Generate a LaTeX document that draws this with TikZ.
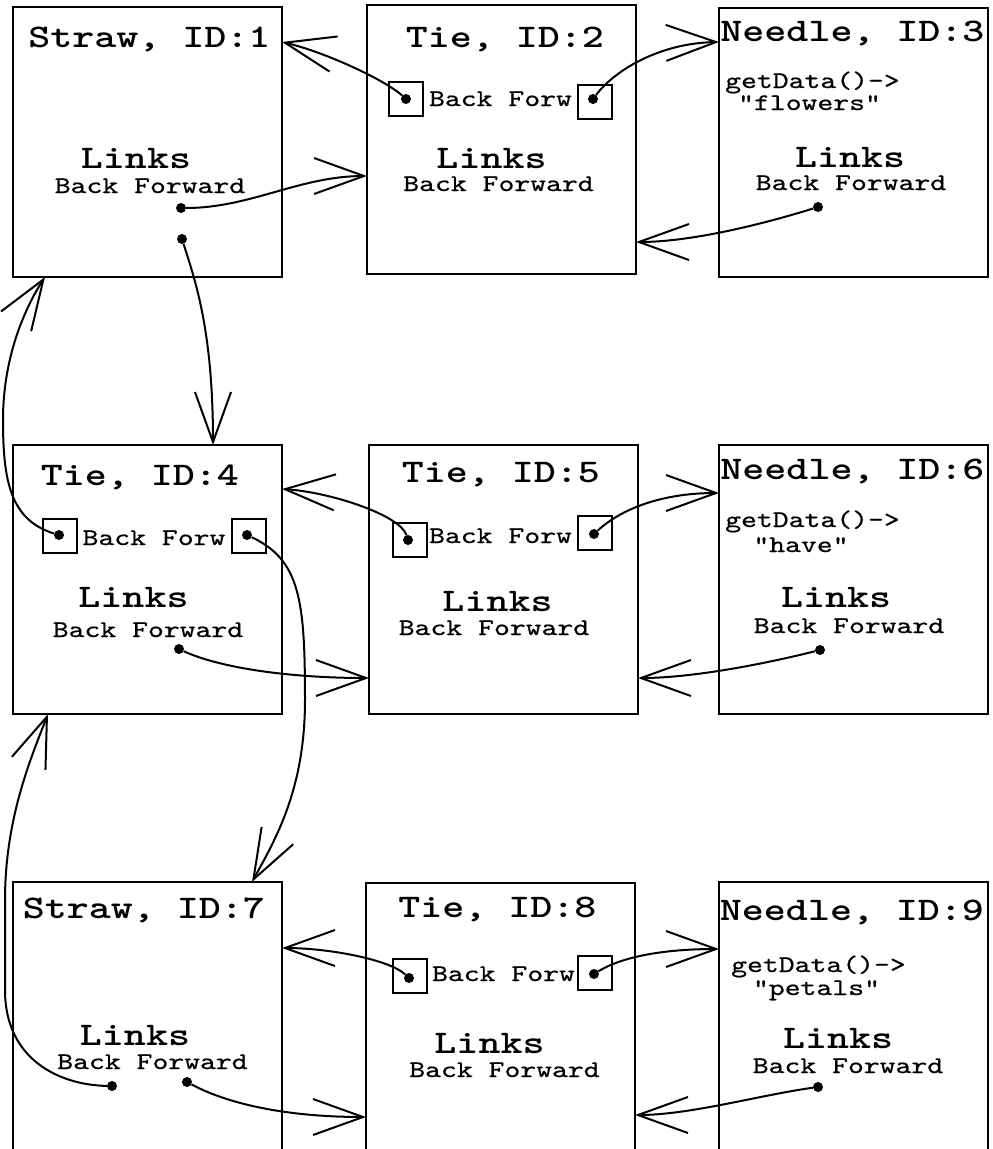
\documentclass[tikz,border=0pt]{standalone}
\usepackage{fontspec}
\newfontfamily\cour{lmmono10-regular.otf}[FakeStretch=1.27,FakeBold=0.6]
\newfontfamily\courb{lmmonolt10-bold.otf}[FakeStretch=1.27]
\usetikzlibrary{arrows.meta}
\begin{document}
\begin{tikzpicture}[x=1pt,y=-1pt,
  box/.style={draw, line width=2pt, minimum width=269.5pt, minimum height=269.5pt, inner sep=0pt, outer sep=0pt},
  slot/.style={draw, line width=2pt, minimum size=34pt, inner sep=0pt, outer sep=0pt},
  big/.style={font=\courb\fontsize{33}{36}\selectfont, inner sep=0pt, anchor=base},
  small/.style={font=\cour\fontsize{23.8}{27}\selectfont, inner sep=0pt, anchor=base},
  dot/.style={circle, fill, inner sep=0pt, minimum size=10pt},
  link/.style={line width=2pt, -{Straight Barb[length=50pt,width=36pt]}}
]
\useasboundingbox (0,0) rectangle (993,1149);
\clip (0,0) rectangle (993,1149);

% ---------- boxes ----------
\node[box] (straw1)  at (147.35,142.15) {};
\node[box] (tie2)    at (501.5,139.5) {};
\node[box] (needle3) at (853.5,142.5) {};
\node[box] (tie4)    at (147.35,579.5) {};
\node[box] (tie5)    at (503.5,579.5) {};
\node[box] (needle6) at (853.5,579.5) {};
\node[box] (straw7)  at (147.35,1016.75) {};
\node[box] (tie8)    at (500.5,1017.75) {};
\node[box] (needle9) at (853.5,1016.75) {};

% ---------- slots ----------
\node[slot] (s2l) at (406,99) {};
\node[slot] (s2r) at (595,102) {};
\node[slot] (s4l) at (60,536) {};
\node[slot] (s4r) at (248.5,536) {};
\node[slot] (s5l) at (410,539.5) {};
\node[slot] (s5r) at (594.5,532.5) {};
\node[slot] (s8l) at (410,976) {};
\node[slot] (s8r) at (594.5,973) {};

% ---------- texts ----------
\node[big]   (st1) at (149.5,47) {Straw, ID:1};
\node[big]   (sl1) at (136,168) {Links};
\node[small] (sb1) at (150,193) {Back Forward};

\node[big]   (tt2) at (505,47) {Tie, ID:2};
\node[small] (tf2) at (500.5,106) {Back Forw};
\node[big]   (tl2) at (491.5,168) {Links};
\node[small] (tb2) at (498.5,191) {Back Forward};

\node[big]   (nt3) at (852.5,41) {Needle, ID:3};
\node[small] (ng3) at (812.5,88) {getData()->};
\node[small] (nv3) at (809.5,110) {"flowers"};
\node[big]   (nl3) at (850,167) {Links};
\node[small] (nb3) at (851,190) {Back Forward};

\node[big]   (tt4) at (140,485) {Tie, ID:4};
\node[small] (tf4) at (154,545) {Back Forw};
\node[big]   (tl4) at (133.5,607) {Links};
\node[small] (tb4) at (148,637) {Back Forward};

\node[big]   (tt5) at (501,482) {Tie, ID:5};
\node[small] (tf5) at (500.5,543) {Back Forw};
\node[big]   (tl5) at (497.5,611) {Links};
\node[small] (tb5) at (494,635) {Back Forward};

\node[big]   (nt6) at (852.5,479) {Needle, ID:6};
\node[small] (ng6) at (812.5,527) {getData()->};
\node[small] (nv6) at (801,552) {"have"};
\node[big]   (nl6) at (836,607) {Links};
\node[small] (nb6) at (849,633) {Back Forward};

\node[big]   (st7) at (144,918) {Straw, ID:7};
\node[big]   (sl7) at (135,1045) {Links};
\node[small] (sb7) at (152.5,1069) {Back Forward};

\node[big]   (tt8) at (497.5,917) {Tie, ID:8};
\node[small] (tf8) at (503.5,981) {Back Forw};
\node[big]   (tl8) at (489.5,1053) {Links};
\node[small] (tb8) at (504.5,1077) {Back Forward};

\node[big]   (nt9) at (852,920) {Needle, ID:9};
\node[small] (ng9) at (818.5,972) {getData()->};
\node[small] (nv9) at (816.5,995) {"petals"};
\node[big]   (nl9) at (838,1048) {Links};
\node[small] (nb9) at (848,1073) {Back Forward};

% ---------- dots ----------
\node[dot] (d1f) at (181,208) {};
\node[dot] (d1c) at (182,239) {};
\node[dot] (d2b) at (406,99) {};
\node[dot] (d2f) at (593,99) {};
\node[dot] (d3)  at (818,207) {};
\node[dot] (d4b) at (59,535) {};
\node[dot] (d4f) at (247,535) {};
\node[dot] (d4w) at (179,649) {};
\node[dot] (d5b) at (408,540) {};
\node[dot] (d5f) at (594,534) {};
\node[dot] (d6)  at (820,650) {};
\node[dot] (d7b) at (112,1086) {};
\node[dot] (d7f) at (187,1082) {};
\node[dot] (d8b) at (409,978) {};
\node[dot] (d8f) at (594,974) {};
\node[dot] (d9)  at (818,1087) {};

% ---------- arrow tips on box borders ----------
\coordinate (a1)  at (282,42);
\coordinate (a2)  at (367,176);
\coordinate (a3)  at (719,42);
\coordinate (a4)  at (636,242);
\coordinate (a5)  at (213,445);
\coordinate (a6)  at (45,277);
\coordinate (a7)  at (282,489);
\coordinate (a8)  at (369,678);
\coordinate (a9)  at (719,493);
\coordinate (a10) at (638,678);
\coordinate (a11) at (252,882);
\coordinate (a12) at (48,714);
\coordinate (a13) at (282,948);
\coordinate (a14) at (366,1117);
\coordinate (a15) at (719,949);
\coordinate (a16) at (635,1115);

% ---------- connectors ----------
\draw[link] (d2b) .. controls (385,80) and (325,52) .. (a1);
\draw[link] (d1f) .. controls (250,208) and (300,176) .. (a2);
\draw[link] (d2f) .. controls (615,70) and (660,43) .. (a3);
\draw[link] (d3) .. controls (760,225) and (690,242) .. (a4);
\draw[link] (d1c) .. controls (195,280) and (213,330) .. (a5);
\draw[link] (d4b) .. controls (10,520) and (3,480) .. (3,420) .. controls (3,350) and (30,300) .. (a6);
\draw[link] (d5b) .. controls (400,515) and (330,492) .. (a7);
\draw[link] (d4w) .. controls (220,668) and (290,678) .. (a8);
\draw[link] (d5f) .. controls (620,510) and (660,493) .. (a9);
\draw[link] (d6) .. controls (760,665) and (690,678) .. (a10);
\draw[link] (d4f) .. controls (300,560) and (305,600) .. (305,700) .. controls (305,790) and (275,840) .. (a11);
\draw[link] (d7b) .. controls (60,1085) and (5,1060) .. (5,990) -- (5,900) .. controls (5,820) and (30,760) .. (a12);
\draw[link] (d8b) .. controls (390,960) and (330,948) .. (a13);
\draw[link] (d7f) .. controls (230,1105) and (290,1117) .. (a14);
\draw[link] (d8f) .. controls (625,955) and (670,949) .. (a15);
\draw[link] (d9) .. controls (760,1095) and (690,1115) .. (a16);
\end{tikzpicture}
\end{document}
